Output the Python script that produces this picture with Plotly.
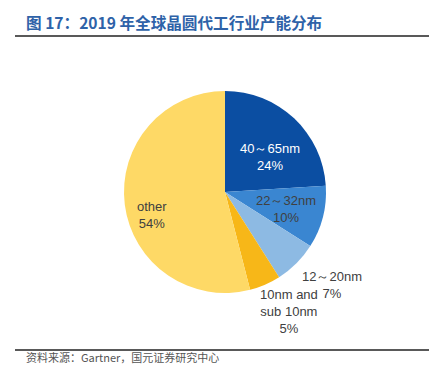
import math
import plotly.graph_objects as go

labels = ["40～65nm", "22～32nm", "12～20nm", "10nm and<br>sub 10nm", "other"]
values = [24, 10, 7, 5, 54]
colors = ["#0B4EA2", "#3A86D1", "#8DBAE3", "#F7B718", "#FED966"]
text_colors = ["#FFFFFF", "#404040", "#404040", "#404040", "#404040"]
# label placement style: (radial factor, angle tweak in degrees)
label_style = [(0.565, 9), (0.63, 1), (1.40, -4), (1.34, -5), (0.76, -10)]

W, H = 429, 378
cx, cy, r = 225, 192, 101

fig = go.Figure(go.Pie(
    labels=labels,
    values=values,
    sort=False,
    direction="clockwise",
    rotation=0,
    marker=dict(colors=colors, line=dict(width=0)),
    textinfo="none",
    showlegend=False,
    hoverinfo="skip",
    domain=dict(x=[(cx - r) / W, (cx + r) / W], y=[1 - (cy + r) / H, 1 - (cy - r) / H]),
))

annotations = [
    dict(text="<b>图 17：2019 年全球晶圆代工行业产能分布</b>", xref="paper", yref="paper",
         x=24 / W, y=1 - 22 / H, xanchor="left", yanchor="middle", showarrow=False,
         font=dict(family="Noto Sans CJK SC", size=15.6, color="#2E62A8")),
    dict(text="资料来源：Gartner，国元证券研究中心", xref="paper", yref="paper",
         x=24 / W, y=1 - 357 / H, xanchor="left", yanchor="middle", showarrow=False,
         font=dict(family="Noto Sans CJK SC", size=11, color="#555555")),
]

total = sum(values)
cum = 0
for lab, v, tc, (rf, da) in zip(labels, values, text_colors, label_style):
    mid = (cum + v / 2) / total * 360 + da
    cum += v
    px = cx + math.sin(math.radians(mid)) * r * rf
    py = cy - math.cos(math.radians(mid)) * r * rf
    annotations.append(dict(
        text=f"{lab}<br>{round(v / total * 100)}%", xref="paper", yref="paper",
        x=px / W, y=1 - py / H, xanchor="center", yanchor="middle", showarrow=False,
        align="center",
        font=dict(family="Liberation Sans, Arial, sans-serif", size=13, color=tc),
    ))

fig.update_layout(
    width=W, height=H,
    margin=dict(l=0, r=0, t=0, b=0),
    paper_bgcolor="white",
    plot_bgcolor="white",
    shapes=[
        dict(type="line", xref="paper", yref="paper", x0=15 / W, x1=1, y0=1 - 36 / H, y1=1 - 36 / H,
             line=dict(color="#222222", width=1.5)),
        dict(type="line", xref="paper", yref="paper", x0=15 / W, x1=1, y0=1 - 350 / H, y1=1 - 350 / H,
             line=dict(color="#222222", width=1.5)),
    ],
    annotations=annotations,
)

fig.write_html("out.html", config={"displayModeBar": False},
               post_script="document.body.style.margin='0';document.body.style.overflow='hidden';")
